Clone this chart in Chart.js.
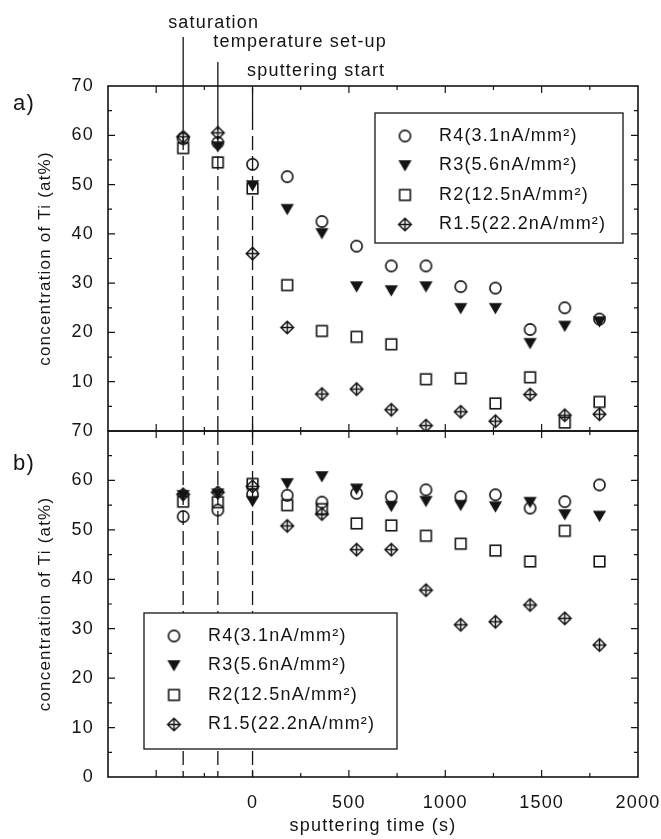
<!DOCTYPE html>
<html>
<head>
<meta charset="utf-8">
<title>Ti concentration vs sputtering time</title>
<script src="https://cdn.jsdelivr.net/npm/chart.js@4.4.1/dist/chart.umd.min.js"></script>
<style>
  html, body { margin: 0; padding: 0; background: #fff; }
  #wrap { position: relative; width: 661px; height: 839px; }
  #wrap canvas { position: absolute; left: 0; top: 0; }
</style>
</head>
<body>
<div id="wrap">
  <canvas id="panelA" width="661" height="839"></canvas>
  <canvas id="panelB" width="661" height="839"></canvas>
</div>
<script>
// sputtering times (s) of the measurements
const times = [-360, -180, 0, 180, 360, 540, 720, 900, 1080, 1260, 1440, 1620, 1800];
const seriesLabels = ['R4(3.1nA/mm²)', 'R3(5.6nA/mm²)', 'R2(12.5nA/mm²)', 'R1.5(22.2nA/mm²)'];

// panel a) concentration of Ti (at%)
const r4A  = [59.3, 58.5, 54.1, 51.6, 42.5, 37.5, 33.5, 33.5, 29.3, 29.0, 20.6, 25.0, 22.7];
const r3A  = [null, 57.7, 49.8, 45.0, 40.1, 29.3, 28.5, 29.3, 24.9, 24.9, 17.8, 21.3, 22.2];
const r2A  = [57.4, 54.5, 49.2, 29.6, 20.3, 19.1, 17.6, 10.5, 10.7, 5.6, 10.9, 1.7, 5.9];
const r15A = [59.7, 60.5, 36.0, 21.0, 7.5, 8.5, 4.3, 1.1, 3.9, 2.0, 7.4, 3.2, 3.4];

// panel b) concentration of Ti (at%)
const r4B  = [52.7, 54.0, 57.2, 57.0, 55.6, 57.4, 56.7, 58.1, 56.7, 57.1, 54.4, 55.7, 59.1];
const r3B  = [57.0, 57.3, 55.8, 59.4, 60.8, 58.3, 54.8, 55.8, 55.0, 54.7, 55.6, 53.1, 52.8];
const r2B  = [55.7, 55.6, 59.3, 55.0, 54.2, 51.3, 50.9, 48.8, 47.2, 45.8, 43.6, 49.8, 43.6];
const r15B = [57.2, 57.6, 58.8, 50.8, 53.2, 46.0, 46.0, 37.8, 30.8, 31.4, 34.8, 32.1, 26.7];

// process events marked by vertical lines
const eventTimes = [-360, -180, 0];
const eventLabels = ['saturation', 'temperature set-up', 'sputtering start'];

// labelled tick values
const xLabelValues = [0, 500, 1000, 1500, 2000];
const yLabelValuesA = [10, 20, 30, 40, 50, 60, 70];
const yLabelValuesB = [0, 10, 20, 30, 40, 50, 60, 70];

const INK = '#141414';
const FONT = "'Liberation Sans', Arial, sans-serif";

// marker glyphs, drawn once into small canvases
function makeMarker(draw) {
    const c = document.createElement('canvas');
    c.width = 17;
    c.height = 17;
    const g = c.getContext('2d');
    g.strokeStyle = INK;
    g.fillStyle = INK;
    g.lineWidth = 1.6;
    draw(g, 8.5);
    return c;
}

const markers = [
    // open circle
    makeMarker((g, m) => {
        g.beginPath();
        g.arc(m, m, 5.6, 0, Math.PI * 2);
        g.stroke();
    }),
    // filled down triangle
    makeMarker((g, m) => {
        g.beginPath();
        g.moveTo(m - 6.6, m - 5.2);
        g.lineTo(m + 6.6, m - 5.2);
        g.lineTo(m, m + 6.0);
        g.closePath();
        g.fill();
    }),
    // open square
    makeMarker((g, m) => {
        g.strokeRect(m - 5.3, m - 5.3, 10.6, 10.6);
    }),
    // diamond with cross
    makeMarker((g, m) => {
        const r = 6.3;
        g.lineWidth = 1.5;
        g.beginPath();
        g.moveTo(m, m - r);
        g.lineTo(m + r, m);
        g.lineTo(m, m + r);
        g.lineTo(m - r, m);
        g.closePath();
        g.moveTo(m - r, m);
        g.lineTo(m + r, m);
        g.moveTo(m, m - r);
        g.lineTo(m, m + r);
        g.stroke();
    })
];

// wider tracking for all canvas text
const spacing = {
    id: 'spacing',
    beforeDraw(chart) {
        chart.ctx.letterSpacing = '1.2px';
    }
};

// box around the plot area with inward tick marks
const frame = {
    id: 'frame',
    afterDraw(chart) {
        const { ctx, chartArea: a, scales: { x, y } } = chart;
        ctx.save();
        ctx.strokeStyle = INK;
        ctx.lineWidth = 1.2;
        ctx.setLineDash([]);
        ctx.beginPath();
        x.ticks.forEach(t => {
            if (t.value <= x.min || t.value >= x.max) return;
            const px = x.getPixelForValue(t.value);
            const len = t.value % 500 === 0 ? 7 : 4;
            ctx.moveTo(px, a.bottom);
            ctx.lineTo(px, a.bottom - len);
            ctx.moveTo(px, a.top);
            ctx.lineTo(px, a.top + len);
        });
        y.ticks.forEach(t => {
            if (t.value <= y.min || t.value >= y.max) return;
            const py = y.getPixelForValue(t.value);
            const len = t.value % 10 === 0 ? 7 : 4;
            ctx.moveTo(a.left, py);
            ctx.lineTo(a.left + len, py);
            ctx.moveTo(a.right, py);
            ctx.lineTo(a.right - len, py);
        });
        ctx.stroke();
        ctx.lineWidth = 1.6;
        ctx.strokeRect(a.left, a.top, a.right - a.left, a.bottom - a.top);
        ctx.restore();
    }
};

// vertical event lines, with captions above the top panel
const eventLines = {
    id: 'eventLines',
    beforeDatasetsDraw(chart, args, opts) {
        const { ctx, chartArea: a, scales: { x } } = chart;
        const captions = opts.captions || [];
        ctx.save();
        ctx.strokeStyle = INK;
        ctx.fillStyle = INK;
        ctx.lineWidth = 1.3;
        eventTimes.forEach((t, i) => {
            const px = x.getPixelForValue(t);
            let dashFrom = a.top;
            const c = captions[i];
            if (c) {
                ctx.font = '18px ' + FONT;
                ctx.textAlign = 'left';
                ctx.textBaseline = 'alphabetic';
                ctx.fillText(eventLabels[i], px + c.dx, c.baseline);
                dashFrom = a.top + 30;
                ctx.setLineDash([]);
                ctx.beginPath();
                ctx.moveTo(px, c.lineTop);
                ctx.lineTo(px, dashFrom);
                ctx.stroke();
            }
            ctx.setLineDash([14, 6]);
            ctx.beginPath();
            ctx.moveTo(px, dashFrom);
            ctx.lineTo(px, a.bottom);
            ctx.stroke();
        });
        ctx.restore();
    }
};

// boxed legend inside the panel
const boxLegend = {
    id: 'boxLegend',
    afterDraw(chart, args, opts) {
        const { ctx } = chart;
        ctx.save();
        ctx.fillStyle = '#fff';
        ctx.fillRect(opts.left, opts.top, opts.width, opts.height);
        ctx.strokeStyle = INK;
        ctx.lineWidth = 1.3;
        ctx.setLineDash([]);
        ctx.strokeRect(opts.left, opts.top, opts.width, opts.height);
        ctx.font = '18px ' + FONT;
        ctx.fillStyle = INK;
        ctx.textAlign = 'left';
        ctx.textBaseline = 'middle';
        chart.data.datasets.forEach((ds, i) => {
            const cy = opts.top + 23 + i * 29.5;
            const m = ds.pointStyle;
            ctx.drawImage(m, opts.left + 30 - m.width / 2, cy - m.height / 2);
            ctx.fillText(ds.label, opts.left + 64, cy);
        });
        ctx.restore();
    }
};

// panel letter
const panelTag = {
    id: 'panelTag',
    afterDraw(chart, args, opts) {
        const { ctx } = chart;
        ctx.save();
        ctx.font = '22px ' + FONT;
        ctx.fillStyle = INK;
        ctx.textAlign = 'left';
        ctx.textBaseline = 'alphabetic';
        ctx.fillText(opts.text, opts.x, opts.y);
        ctx.restore();
    }
};

function buildPanel(id, seriesValues, yLabelValues, cfg) {
    const datasets = seriesValues.map((vals, i) => ({
        label: seriesLabels[i],
        data: times.map((t, k) => ({ x: t, y: vals[k] })).filter(p => p.y !== null),
        pointStyle: markers[i],
        pointRadius: 6,
        showLine: false
    }));

    return new Chart(document.getElementById(id), {
        type: 'scatter',
        data: { datasets: datasets },
        options: {
            responsive: false,
            animation: false,
            events: [],
            layout: { padding: cfg.padding },
            scales: {
                x: {
                    type: 'linear',
                    min: -750,
                    max: 2000,
                    grid: { display: false },
                    border: { display: false },
                    ticks: {
                        display: cfg.xLabels,
                        stepSize: 250,
                        autoSkip: false,
                        maxRotation: 0,
                        minRotation: 0,
                        padding: 7,
                        color: INK,
                        font: { family: FONT, size: 18 },
                        callback: v => xLabelValues.includes(v) ? String(v) : ''
                    },
                    title: {
                        display: cfg.xLabels,
                        text: 'sputtering time (s)',
                        color: INK,
                        font: { family: FONT, size: 18 },
                        padding: { top: 0, bottom: 2 }
                    },
                    afterFit: s => {
                        s.height = cfg.xHeight;
                        // keep the end label from shrinking the plot area
                        s.paddingLeft = 0;
                        s.paddingRight = 0;
                    }
                },
                y: {
                    type: 'linear',
                    min: 0,
                    max: 70,
                    grid: { display: false },
                    border: { display: false },
                    ticks: {
                        stepSize: 5,
                        autoSkip: false,
                        padding: 6,
                        color: INK,
                        font: { family: FONT, size: 18 },
                        callback: v => yLabelValues.includes(v) ? String(v) : ''
                    },
                    title: {
                        display: true,
                        text: 'concentration of Ti (at%)',
                        color: INK,
                        font: { family: FONT, size: 17 },
                        padding: { top: 35, bottom: 0 }
                    },
                    afterFit: s => {
                        s.width = 108;
                        s.paddingTop = 0;
                        s.paddingBottom = 0;
                    }
                }
            },
            plugins: {
                legend: { display: false },
                tooltip: { enabled: false },
                eventLines: { captions: cfg.captions },
                boxLegend: cfg.legendBox,
                panelTag: cfg.tag
            }
        },
        plugins: [spacing, eventLines, frame, boxLegend, panelTag]
    });
}

buildPanel('panelA', [r4A, r3A, r2A, r15A], yLabelValuesA, {
    padding: { top: 86, right: 23, bottom: 408, left: 0 },
    xLabels: false,
    xHeight: 0,
    captions: [
        { dx: -15, baseline: 28, lineTop: 37 },
        { dx: -4.5, baseline: 47, lineTop: 62 },
        { dx: -5.5, baseline: 76, lineTop: 88 }
    ],
    legendBox: { left: 375, top: 113, width: 248, height: 130 },
    tag: { text: 'a)', x: 13, y: 110 }
});

buildPanel('panelB', [r4B, r3B, r2B, r15B], yLabelValuesB, {
    padding: { top: 431, right: 23, bottom: 0, left: 0 },
    xLabels: true,
    xHeight: 62,
    captions: null,
    legendBox: { left: 144, top: 613, width: 253, height: 136 },
    tag: { text: 'b)', x: 13, y: 470 }
});
</script>
</body>
</html>
